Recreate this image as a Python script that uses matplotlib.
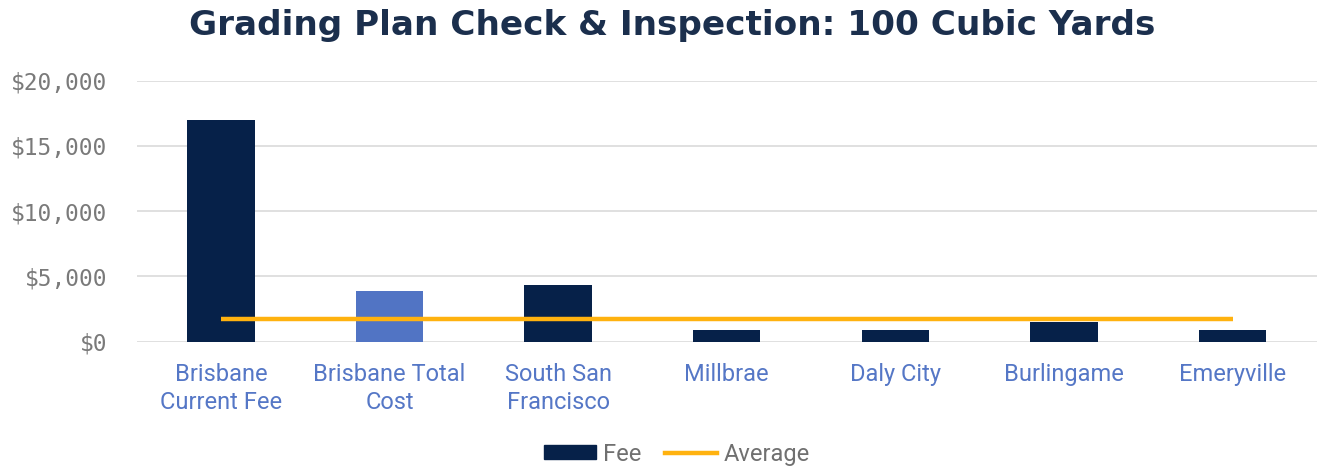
import matplotlib
matplotlib.use("Agg")
import matplotlib.pyplot as plt
from matplotlib.ticker import FuncFormatter
from matplotlib.patches import Patch
from matplotlib.lines import Line2D

categories = ["Brisbane\nCurrent Fee", "Brisbane Total\nCost", "South San\nFrancisco",
              "Millbrae", "Daly City", "Burlingame", "Emeryville"]
fees = [17000, 3900, 4340, 900, 900, 1500, 900]
average = [1710] * len(categories)
yticks = [0, 5000, 10000, 15000, 20000]

navy = "#062149"
light_blue = "#5174c4"
bar_colors = [navy, light_blue, navy, navy, navy, navy, navy]
gold = "#ffb20f"

fig = plt.figure(figsize=(13.17, 4.69), dpi=100)
ax = fig.add_axes([136.5 / 1317, (469 - 341.7) / 469, (1317 - 136.5) / 1317, (341.7 - 80.7) / 469])

x = list(range(len(categories)))
ax.bar(x, fees, width=0.4, color=bar_colors, zorder=2)
ax.plot(x, average, color=gold, linewidth=3.2, zorder=3, solid_capstyle="butt")

ax.set_xlim(-0.5, len(categories) - 0.5)
ax.set_ylim(0, 20000)
ax.set_yticks(yticks)
ax.yaxis.set_major_formatter(FuncFormatter(lambda v, p: "${:,.0f}".format(v)))
ax.grid(axis="y", color="#dadada", linewidth=1.2, zorder=0)
for s in ax.spines.values():
    s.set_visible(False)
ax.tick_params(axis="both", length=0)
ax.tick_params(axis="y", pad=21)
ax.tick_params(axis="x", pad=15)
for lab in ax.get_yticklabels():
    lab.set_fontfamily("DejaVu Sans Mono")
    lab.set_fontsize(16.5)
    lab.set_color("#7a7a7a")
ax.set_xticks(x)
ax.set_xticklabels(categories, fontsize=17, color="#5577c6", family="Roboto", linespacing=1.32)

fig.text(672 / 1317, 1 - 26 / 469, "Grading Plan Check & Inspection: 100 Cubic Yards",
         ha="center", va="center", fontsize=24.7, fontweight="bold", color="#1b2f4d",
         family="DejaVu Sans")

handles = [Patch(facecolor=navy, edgecolor=navy), Line2D([0], [0], color=gold, linewidth=3.2)]
fig.legend(handles, ["Fee", "Average"], loc="center", bbox_to_anchor=(677 / 1317, 1 - 454 / 469),
           ncol=2, frameon=False, labelcolor="#707070",
           handlelength=2.2, handleheight=0.5, handletextpad=0.3, columnspacing=1.0,
           prop={"family": "Roboto", "size": 17})

fig.savefig("out.png", dpi=100)
